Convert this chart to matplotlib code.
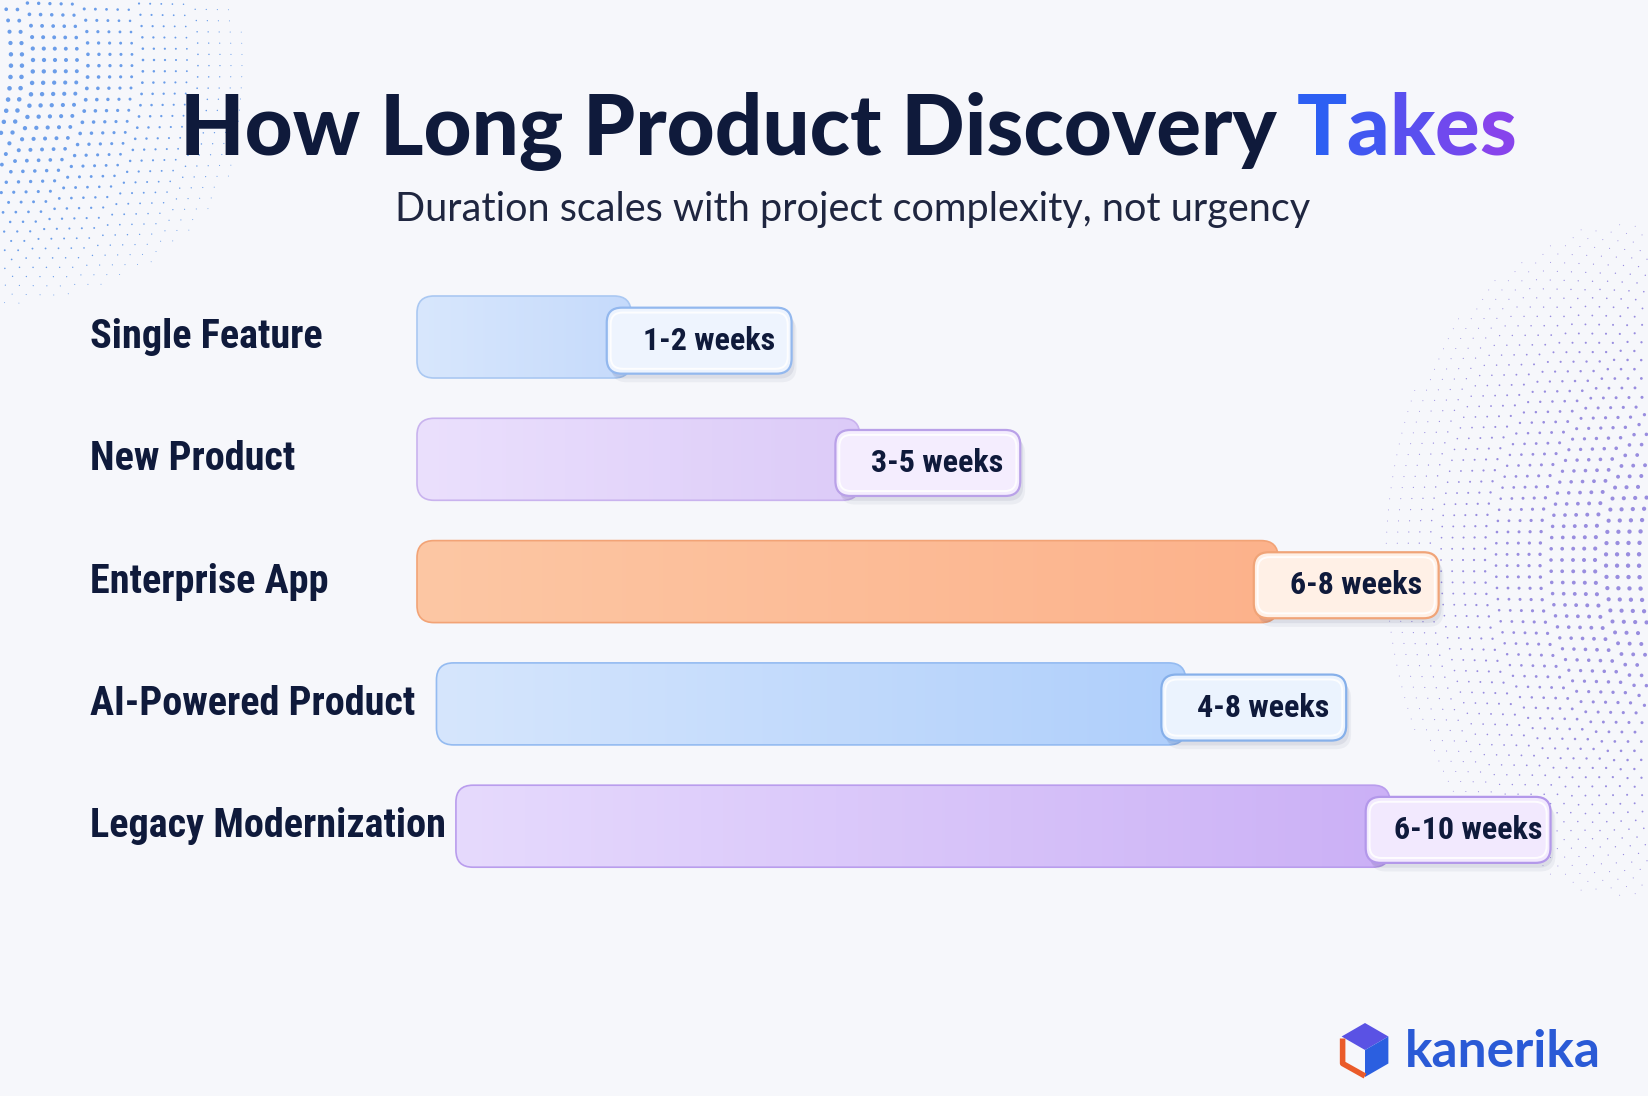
import numpy as np
import matplotlib.pyplot as plt
from matplotlib.patches import FancyBboxPatch, Polygon
from matplotlib.colors import LinearSegmentedColormap

# rows, top to bottom
categories = ["Single Feature", "New Product", "Enterprise App",
              "AI-Powered Product", "Legacy Modernization"]
duration_labels = ["1-2 weeks", "3-5 weeks", "6-8 weeks", "4-8 weeks", "6-10 weeks"]
# bar extent (roughly weeks)
bar_start = [0.0, 0.0, 0.0, 0.2, 0.4]
bar_end = [2.2, 4.55, 8.85, 7.9, 10.0]

bar_left_colors = ["#d8e7fd", "#ebe0fd", "#fcc7a4", "#d6e6fd", "#e6dafd"]
bar_right_colors = ["#c5dafb", "#dccbf8", "#fdb28b", "#afcffb", "#cbb0f6"]
bar_edge_colors = ["#aac8f2", "#c9b3ee", "#f2a376", "#94bbf1", "#b99ded"]
pill_fill_colors = ["#eef4fe", "#f4edfe", "#fff0e6", "#ebf3fe", "#f2e9fe"]
pill_edge_colors = ["#93b8ee", "#b9a1e8", "#f0a478", "#86b0ea", "#b398ea"]

title_main = "How Long Product Discovery"
title_accent = "Takes"
accent_colors = ["#2d5ff3", "#4157f1", "#5a4fef", "#7049ee", "#8744ec"]
subtitle = "Duration scales with project complexity, not urgency"

NAVY = "#0f1a3b"
BG = "#f6f7fb"
W, H = 1648, 1096

fig = plt.figure(figsize=(W / 100, H / 100), dpi=100)
fig.patch.set_facecolor(BG)

# decoration layer, pixel units
deco = fig.add_axes([0, 0, 1, 1])
deco.set_xlim(0, W)
deco.set_ylim(H, 0)
deco.axis("off")


def dot_field(cx, cy, r0, r1, a0, a1, fx, fy, sx, sy, color, smax):
    xs, ys, ss = [], [], []
    for r in np.arange(r0, r1, 11):
        n = int(abs(a1 - a0) * r / 11)
        for a in np.linspace(a0, a1, max(n, 2)):
            x = cx + r * np.cos(a)
            y = cy + r * np.sin(a)
            if 0 <= x <= W and 0 <= y <= H:
                k = np.exp(-((x - fx) / sx) ** 2 - ((y - fy) / sy) ** 2)
                if k > 0.04:
                    xs.append(x); ys.append(y); ss.append(smax * k)
    deco.scatter(xs, ys, s=np.array(ss), c=color, alpha=0.75, linewidths=0)


dot_field(-260, 60, 260, 600, -0.9, 0.9, 0, 90, 140, 120, "#3d7fe3", 11)
dot_field(1900, 560, 250, 520, np.pi - 0.9, np.pi + 0.9, 1648, 560, 150, 190, "#7a6ad6", 10)

# logo
cx, cy, rr = 1365, 1050, 27
hx = rr * np.cos(np.pi / 6)
top = (cx, cy - rr); ur = (cx + hx, cy - rr / 2); lr = (cx + hx, cy + rr / 2)
bot = (cx, cy + rr); ll = (cx - hx, cy + rr / 2); ul = (cx - hx, cy - rr / 2)
ctr = (cx, cy)
deco.add_patch(Polygon([top, ur, ctr, ul], closed=True, fc="#5a52e4", ec="none"))
deco.add_patch(Polygon([ctr, ur, lr, bot], closed=True, fc="#2b5fe0", ec="none"))
deco.plot([ul[0] + 1, ll[0] + 1, bot[0]], [ul[1] + 2, ll[1], bot[1] - 1],
          color="#ea5b2a", lw=4, solid_capstyle="butt")
fig.text(1405 / W, 1 - 1067 / H, "kanerika", fontsize=37, fontweight="bold",
         family=["Lato", "DejaVu Sans"], color="#2a5ad6", ha="left", va="baseline")

# chart axes: x in weeks, y in rows
ax = fig.add_axes([0, 0, 1, 1], facecolor="none")
px_per_week = 97.3
x0_px = 417
row_px0, row_step = 337, 122.3
xlim = (-x0_px / px_per_week, (W - x0_px) / px_per_week)
ylim = ((H - row_px0) / row_step, -row_px0 / row_step)
aspect = px_per_week / row_step

bar_h = 82 / row_step
pill_h = 66 / row_step
pill_w = 1.9
bar_r = 17 / px_per_week
pill_r = 15 / px_per_week

narrow_font = ["Liberation Sans Narrow", "Roboto Condensed", "Roboto", "DejaVu Sans"]

for i, cat in enumerate(categories):
    y = i
    s, e = bar_start[i], bar_end[i]
    bar = FancyBboxPatch((s, y - bar_h / 2), e - s, bar_h,
                         boxstyle=f"round,pad=0,rounding_size={bar_r}",
                         mutation_aspect=aspect, fc="none", ec=bar_edge_colors[i],
                         lw=1.2, zorder=3)
    ax.add_patch(bar)
    cmap = LinearSegmentedColormap.from_list("g", [bar_left_colors[i], bar_right_colors[i]])
    im = ax.imshow(np.linspace(0, 1, 256)[None, :], cmap=cmap, aspect="auto",
                   extent=(s, e, y + bar_h / 2, y - bar_h / 2), zorder=2)
    im.set_clip_path(bar)

    # pill with duration text
    pl = e - 0.25
    py = y + 0.03
    for dx, dy, a in [(0.05, 0.07, 0.05), (0.03, 0.04, 0.07)]:
        ax.add_patch(FancyBboxPatch((pl + dx, py - pill_h / 2 + dy), pill_w, pill_h,
                                    boxstyle=f"round,pad=0,rounding_size={pill_r}",
                                    mutation_aspect=aspect, fc="#1c2450", ec="none",
                                    alpha=a, zorder=4))
    ax.add_patch(FancyBboxPatch((pl, py - pill_h / 2), pill_w, pill_h,
                                boxstyle=f"round,pad=0,rounding_size={pill_r}",
                                mutation_aspect=aspect, fc=pill_fill_colors[i],
                                ec=pill_edge_colors[i], lw=1.6, zorder=5))
    ax.add_patch(FancyBboxPatch((pl + 0.04, py - pill_h / 2 + 0.04), pill_w - 0.08, pill_h - 0.08,
                                boxstyle=f"round,pad=0,rounding_size={pill_r * 0.8}",
                                mutation_aspect=aspect, fc="none",
                                ec="white", lw=1.4, alpha=0.9, zorder=6))
    ax.text(pl + pill_w / 2 + 0.1, py, duration_labels[i], ha="center", va="center",
            fontsize=23, fontweight="bold", family=narrow_font, color=NAVY, zorder=7)

    # category label
    ax.text((90 - x0_px) / px_per_week, y, cat, ha="left", va="center",
            fontsize=29, fontweight="bold", family=narrow_font, color=NAVY, zorder=7)

ax.set_xlim(*xlim)
ax.set_ylim(*ylim)
ax.axis("off")

# title with gradient accent word
title_font = ["Lato", "DejaVu Sans"]
r = fig.canvas.get_renderer()
base_y = 1 - 155 / H
tkw = dict(fontsize=60, fontweight="black", family=title_font, va="baseline", ha="left")
main = fig.text(0, base_y, title_main, color=NAVY, **tkw)
w_main = main.get_window_extent(r).width
gap = 20


def width_of(txt):
    t = fig.text(0, base_y, txt, **tkw)
    w = t.get_window_extent(r).width
    t.remove()
    return w


w_acc = width_of(title_accent)
left = 848 - (w_main + gap + w_acc) / 2
main.set_x(left / W)
acc_left = left + w_main + gap
for k, ch in enumerate(title_accent):
    xr = acc_left + width_of(title_accent[:k + 1])
    fig.text(xr / W, base_y, ch, color=accent_colors[k],
             **{**tkw, "ha": "right"})

fig.text(853 / W, 1 - 221 / H, subtitle, ha="center", va="baseline", fontsize=28.5,
         fontweight="normal", family=["Lato", "DejaVu Sans"], color="#1f2640")

fig.savefig("out.png", dpi=100, facecolor=BG)
